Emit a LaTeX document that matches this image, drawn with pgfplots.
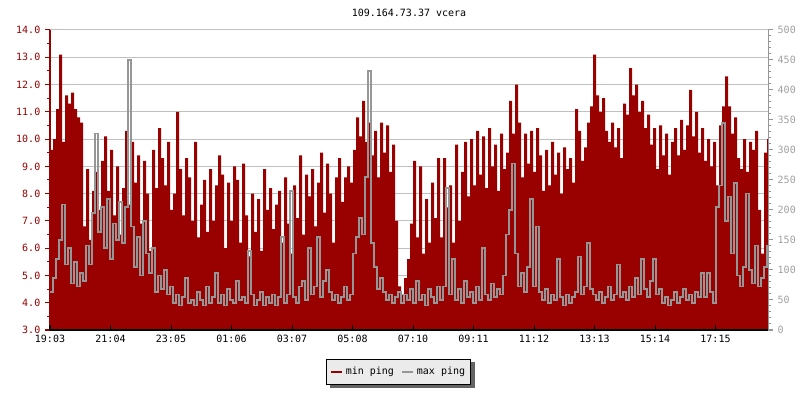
\documentclass[border=0pt]{standalone}
\usepackage{fontspec}
\setmainfont{DejaVu Sans Mono}
\usepackage{pgfplots}
\pgfplotsset{compat=1.18}
\usepackage{pgfplotstable}

\pgfdeclarelayer{background}
\pgfsetlayers{background,main}

\definecolor{minred}{RGB}{153,0,0}
\definecolor{maxgray}{RGB}{150,150,150}
\definecolor{gridgray}{RGB}{192,192,192}
\definecolor{rlabel}{RGB}{160,160,160}
\definecolor{legbg}{RGB}{235,235,235}
\definecolor{shadow}{RGB}{100,100,100}

% minutes since 19:03, min ping / max ping (max drawn on the 3-14 scale)
\pgfplotstableread{
min red gray
0 9.6 4.4
6 10.0 4.9
12 11.1 5.6
18 13.1 6.3
24 9.9 7.6
30 11.6 5.4
36 11.3 6.0
42 11.7 4.7
48 11.1 5.5
54 10.8 4.6
60 10.6 5.1
66 6.8 4.8
72 8.9 6.1
78 6.3 5.4
84 8.1 7.3
90 8.8 10.2
96 7.4 6.6
102 9.2 7.5
108 10.1 6.0
114 8.1 7.8
120 9.6 5.6
126 7.2 6.9
132 9.0 6.3
138 6.5 7.7
144 8.2 6.2
150 10.3 7.5
156 7.6 12.9
162 9.9 6.8
168 8.4 5.3
174 9.4 6.4
180 6.9 5.0
186 9.2 7.0
192 8.0 5.8
198 5.9 5.1
204 9.6 6.0
210 8.2 4.4
216 10.4 5.0
222 9.3 4.5
228 8.3 5.2
234 9.9 4.3
240 7.4 4.6
246 8.0 4.0
252 11.0 4.3
258 8.9 3.9
264 7.2 4.2
270 9.3 4.9
276 8.6 4.0
282 7.0 4.1
288 9.9 3.9
294 6.4 4.4
300 7.6 4.1
306 8.5 3.9
312 6.6 4.6
318 8.9 4.0
324 7.0 4.2
330 8.3 5.1
336 9.4 4.0
342 8.7 4.3
348 6.0 3.9
354 8.4 4.5
360 7.0 4.1
366 9.0 4.0
372 8.5 4.8
378 6.2 4.1
384 9.1 4.2
390 7.2 4.0
396 5.7 5.9
402 8.0 4.3
408 6.6 3.9
414 7.8 4.1
420 5.9 4.4
426 8.9 3.9
432 7.4 4.2
438 8.2 4.0
444 6.7 4.3
450 7.6 3.9
456 8.1 4.2
462 6.2 6.4
468 8.6 4.0
474 6.9 4.3
480 5.8 8.1
486 8.3 4.2
492 7.1 4.0
498 9.4 4.6
504 6.5 4.8
510 8.7 4.1
516 7.9 6.0
522 8.9 4.3
528 6.8 4.6
534 8.4 6.4
540 9.5 4.2
546 7.3 4.8
552 9.1 5.2
558 8.0 4.4
564 6.2 4.1
570 8.6 4.3
576 9.3 4.0
582 7.7 4.2
588 8.6 4.6
594 9.0 4.1
600 8.4 4.3
606 9.6 5.8
612 10.8 6.4
618 10.1 7.1
624 11.4 6.5
630 9.9 8.6
636 10.6 12.5
642 9.4 6.2
648 10.3 5.3
654 8.6 4.5
660 10.6 4.9
666 9.5 4.4
672 10.5 4.1
678 8.8 4.3
684 9.8 4.0
690 7.0 4.2
696 4.6 4.4
702 4.3 4.0
708 4.9 4.3
714 5.6 4.1
720 6.9 4.5
726 9.2 4.0
732 6.4 4.8
738 9.0 4.1
744 5.8 4.3
750 7.8 3.9
756 6.2 4.5
762 8.4 4.2
768 7.1 4.0
774 9.3 4.6
780 6.4 4.1
786 9.3 4.6
792 7.5 8.2
798 8.3 4.3
804 6.2 5.6
810 9.8 4.1
816 7.0 4.5
822 8.8 4.0
828 9.9 4.8
834 7.9 4.2
840 10.0 4.4
846 8.3 4.0
852 10.3 4.6
858 8.7 4.1
864 10.1 6.0
870 8.2 4.3
876 10.4 4.1
882 9.0 4.7
888 9.8 4.2
894 8.1 4.5
900 10.2 4.3
906 8.9 5.0
912 9.5 6.5
918 11.4 7.4
924 10.2 9.1
930 12.0 5.8
936 10.6 4.6
942 8.6 5.1
948 10.2 4.4
954 9.1 5.3
960 10.3 7.8
966 8.8 4.6
972 10.4 6.8
978 9.4 4.4
984 8.1 4.1
990 9.6 4.5
996 8.3 4.0
1002 9.9 4.3
1008 8.7 4.1
1014 9.5 5.6
1020 8.0 4.2
1026 9.7 3.9
1032 8.9 4.3
1038 9.3 4.0
1044 8.4 4.2
1050 11.1 4.4
1056 10.3 5.7
1062 9.2 4.3
1068 9.7 4.6
1074 10.6 6.2
1080 11.2 4.5
1086 13.1 4.3
1092 11.6 4.1
1098 11.0 4.4
1104 11.5 4.0
1110 10.3 4.2
1116 9.9 4.6
1122 10.6 4.1
1128 9.7 4.3
1134 10.4 5.4
1140 9.3 4.2
1146 11.3 4.4
1152 10.9 4.1
1158 12.6 4.6
1164 11.6 4.2
1170 12.0 4.9
1176 11.0 4.3
1182 11.4 5.6
1188 10.4 4.5
1194 10.9 4.2
1200 9.8 4.8
1206 10.4 5.6
1212 8.9 4.3
1218 10.5 4.5
1224 9.4 4.0
1230 10.2 4.2
1236 8.7 3.9
1242 9.9 4.1
1248 10.4 4.4
1254 9.4 4.0
1260 10.7 4.2
1266 9.6 4.5
1272 10.5 4.1
1278 11.8 4.3
1284 10.1 4.0
1290 11.0 4.4
1296 9.5 4.2
1302 10.4 5.1
1308 9.2 4.2
1314 10.0 5.1
1320 9.0 4.4
1326 9.9 4.0
1332 8.3 7.5
1338 10.5 8.3
1344 11.2 10.6
1350 12.3 7.0
1356 11.2 7.9
1362 10.2 5.8
1368 10.8 8.4
1374 9.3 5.0
1380 8.9 4.6
1386 10.0 5.3
1392 8.8 8.0
1398 9.9 5.2
1404 9.6 4.7
1410 10.3 6.1
1416 7.4 4.6
1422 5.8 4.9
1428 9.5 5.3
1434 10.0 6.1
1436 10.0 6.1
}\pingdata

\begin{document}
\begin{tikzpicture}[font=\fontsize{7.5}{9}\selectfont]
\useasboundingbox (0,0) rectangle (600pt,300pt);
\pgfplotsset{
  frame/.style={
    scale only axis, width=538.5pt, height=225pt,
    at={(37.5pt,52.5pt)}, anchor=south west,
    xmin=0, xmax=1436,
    /pgf/number format/assume math mode=true,
    every tick label/.append style={font=\fontsize{7.5}{9}\selectfont},
    major tick length=3.75pt, minor tick length=2.25pt,
    axis line style={-, line width=0.75pt},
    every tick/.append style={line width=0.75pt},
  },
}

% grid and left scale
\begin{axis}[frame, ymin=3, ymax=14,
  axis x line=none, axis y line*=left,
  ytick={3,...,14}, minor y tick num=1, tick align=outside,
  ymajorgrids, grid style={gridgray, line width=0.75pt},
  y axis line style={minred}, ytick style={minred},
  yticklabel style={minred, /pgf/number format/.cd, fixed, fixed zerofill, precision=1},
]
\end{axis}

% series and time axis
\begin{axis}[frame, ymin=3, ymax=14,
  axis y line=none, axis x line*=bottom, axis on top,
  tick align=inside,
  xtick={0,121,...,1331},
  xticklabels={19:03,21:04,23:05,01:06,03:07,05:08,07:10,09:11,11:12,13:13,15:14,17:15},
  x axis line style={black}, xtick style={black},
  legend image code/.code={\draw[#1, line width=2pt] (0pt,0pt) -- (8.25pt,0pt);},
  legend columns=2,
  legend style={name=leg, at={(0.4855,-0.0967)}, anchor=north, draw=black,
    line width=0.9pt, fill=legbg, font=\fontsize{7.5}{9}\selectfont,
    inner xsep=2.2pt, inner ysep=3.6pt,
    /tikz/every even column/.append style={column sep=3pt}},
]
\addplot[const plot, fill=minred, draw=none, forget plot] table[x=min, y=red] {\pingdata} \closedcycle;
\addplot[const plot, maxgray, line width=1.2pt, forget plot] table[x=min, y=gray] {\pingdata};
\addlegendimage{minred}
\addlegendentry{min ping}
\addlegendimage{maxgray}
\addlegendentry{max ping}
\end{axis}

% right scale
\begin{axis}[frame, ymin=0, ymax=500,
  axis x line=none, axis y line*=right,
  ytick={0,50,...,500}, minor y tick num=4, tick align=outside,
  y axis line style={maxgray}, ytick style={maxgray},
  yticklabel style={rlabel},
]
\end{axis}

\begin{pgfonlayer}{background}
\fill[shadow] ([shift={(3pt,-2.6pt)}]leg.south west) rectangle ([shift={(3pt,-2.6pt)}]leg.north east);
\end{pgfonlayer}

\node at (306.75pt,290.25pt) {109.164.73.37 vcera};
\end{tikzpicture}
\end{document}
